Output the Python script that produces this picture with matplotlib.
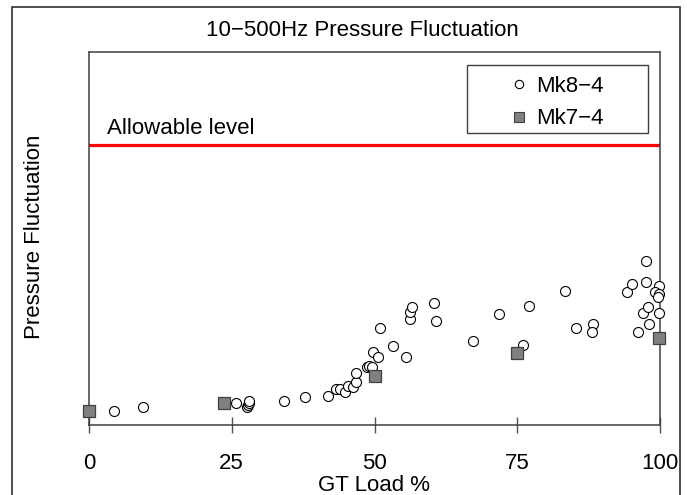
import matplotlib
matplotlib.use("Agg")
import matplotlib.pyplot as plt
from matplotlib.patches import Rectangle
from matplotlib.lines import Line2D

plt.rcParams['font.family'] = ['Liberation Sans', 'DejaVu Sans']
FS = 16

# GT load (%) and pressure fluctuation (arbitrary units) for each unit type
mk8_load = [4.4, 9.5, 25.8, 27.7, 27.9, 28.1, 28.1, 34.2, 37.9, 41.9,
            43.3, 44.0, 44.9, 45.4, 46.3, 46.7, 46.8, 48.6, 49.1, 49.6,
            49.8, 50.7, 50.9, 53.3, 55.6, 56.3, 56.3, 56.5, 60.5, 60.7,
            67.2, 71.8, 76.0, 77.0, 83.3, 85.3, 88.2, 88.1, 94.2, 95.1,
            97.5, 97.5, 97.0, 97.9, 96.1, 98.1, 99.8, 99.1, 99.8, 99.6,
            99.8]
mk8_level = [14, 18, 22, 18, 20, 22, 24, 24, 28, 29,
             36, 36, 33, 39, 38, 43, 52, 58, 59, 58,
             73, 68, 97, 79, 68, 106, 113, 118, 122, 104,
             84, 111, 80, 119, 134, 97, 101, 93, 133, 141,
             164, 143, 112, 118, 93, 101, 139, 133, 131, 128,
             112]

mk7_load = [0, 23.7, 50, 74.9, 99.8]
mk7_level = [14, 22, 49, 72, 87]

allowable_level = 280
y_max = 373
x_ticks = [0, 25, 50, 75, 100]

fig = plt.figure(figsize=(6.87, 4.95), dpi=100)
ax = fig.add_axes([89 / 687, 1 - 425 / 495, 571 / 687, 373 / 495])

# outer frame around the whole chart
fig.patches.append(Rectangle((12 / 687, -0.05), 668 / 687, 1.05 - 7 / 495,
                             transform=fig.transFigure, fill=False,
                             edgecolor='#303030', linewidth=1.2))

ax.axhline(allowable_level, color='#ff0000', linewidth=2.3, zorder=2)
ax.text(0.032, allowable_level + 17, 'Allowable level', transform=ax.get_yaxis_transform(),
        fontsize=FS, va='center', ha='left')

ax.plot(mk8_load, mk8_level, linestyle='none', marker='o', markersize=7.2,
        markerfacecolor='white', markeredgecolor='black', markeredgewidth=0.8,
        clip_on=False, zorder=3)
ax.plot(mk7_load, mk7_level, linestyle='none', marker='s', markersize=8.5,
        markerfacecolor='#808080', markeredgecolor='#404040', markeredgewidth=0.9,
        clip_on=False, zorder=4)

ax.set_xlim(0, 100)
ax.set_ylim(0, y_max)
ax.set_xticks(x_ticks)
ax.set_xticklabels([str(t) for t in x_ticks], fontsize=FS)
ax.set_yticks([])
ax.tick_params(axis='x', direction='inout', length=12, width=1.0, color='#505050', pad=14)
for s in ax.spines.values():
    s.set_color('#404040')
    s.set_linewidth(1.1)

ax.set_xlabel('GT Load %', fontsize=FS, labelpad=1)
fig.text(35 / 687, 1 - 237 / 495, 'Pressure Fluctuation', fontsize=FS,
         rotation=90, ha='center', va='center')
fig.text(362 / 687, 1 - 30 / 495, '10\u2212500Hz Pressure Fluctuation',
         fontsize=FS, ha='center', va='center')

# legend box with the entries centred inside
ax.add_patch(Rectangle((0.662, 0.783), 0.317, 0.182, transform=ax.transAxes,
                       fill=False, edgecolor='#404040', linewidth=1.0, zorder=5))
handles = [Line2D([], [], linestyle='none', marker='o', markersize=6,
                  markerfacecolor='white', markeredgecolor='black', markeredgewidth=0.8),
           Line2D([], [], linestyle='none', marker='s', markersize=7,
                  markerfacecolor='#808080', markeredgecolor='#404040', markeredgewidth=0.8)]
ax.legend(handles, ['Mk8\u22124', 'Mk7\u22124'], loc='center', bbox_to_anchor=(0.8205, 0.864),
          frameon=False, fontsize=FS, handlelength=0.7, handletextpad=0.45,
          labelspacing=0.5)

fig.savefig('out.png', dpi=100)
